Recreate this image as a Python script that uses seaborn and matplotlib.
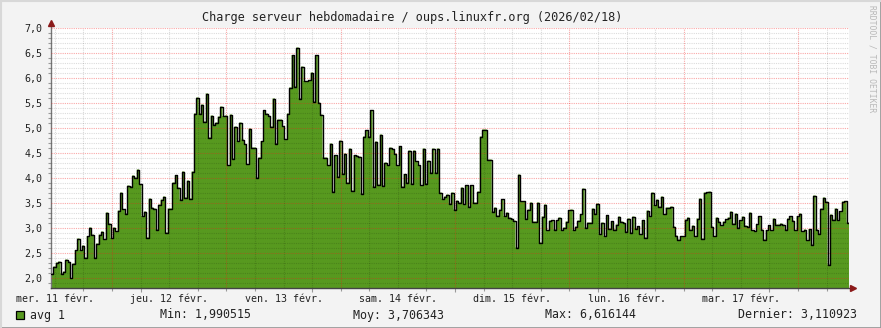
import numpy as np
import pandas as pd
import matplotlib
matplotlib.use("Agg")
import matplotlib.pyplot as plt
import seaborn as sns
from matplotlib.lines import Line2D
from matplotlib.patches import Rectangle

# ---------------- data ----------------
title = "Charge serveur hebdomadaire / oups.linuxfr.org (2026/02/18)"
day_labels = ["mer. 11 févr.", "jeu. 12 févr.", "ven. 13 févr.", "sam. 14 févr.",
              "dim. 15 févr.", "lun. 16 févr.", "mar. 17 févr."]
series_name = "avg 1"
stats_labels = ["Min: 1,990515", "Moy: 3,706343", "Max: 6,616144", "Dernier: 3,110923"]
y_ticks = [2.0, 2.5, 3.0, 3.5, 4.0, 4.5, 5.0, 5.5, 6.0, 6.5, 7.0]
watermark = "RRDTOOL / TOBI OETIKER"

start_hour = 11.19      # hours after midnight, Wed 11 Feb
step_hours = 0.5        # 30-minute consolidation

load_day1 = [2.09, 2.23, 2.31, 2.33, 2.09, 2.13, 2.37, 2.33, 2.00, 2.29,
             2.56, 2.79, 2.56, 2.65, 2.41, 2.84, 3.01, 2.87, 2.41, 2.69,
             2.87, 2.93, 2.78, 3.31, 3.09, 2.80, 3.01, 2.94, 3.35, 3.71,
             3.38, 3.29, 3.85, 3.83, 4.05, 4.01, 4.17, 3.88, 3.24, 3.33,
             2.81, 3.59, 3.41, 3.39, 2.97, 3.47, 3.57, 3.63, 2.91, 3.39,
             3.39, 3.91, 4.06, 3.81, 3.57, 4.13, 3.61, 3.95, 3.59, 4.13,
             5.29, 5.61, 5.29, 5.47, 5.13, 5.69, 4.81, 5.25, 5.07, 5.11,
             5.23, 5.43, 5.24, 5.25, 4.26, 5.27, 4.39, 5.03, 4.74, 5.11,
             4.77, 4.68, 4.28, 4.99, 4.61, 4.61, 4.01, 4.41, 4.74, 5.36,
             5.29, 5.25, 5.03, 5.59, 4.69, 5.17, 5.17, 5.04, 4.78, 5.29,
             5.81, 6.46, 5.83, 6.61]
load_mid = [5.59, 6.23, 5.94, 5.94, 5.96, 6.11, 5.53, 6.46, 5.51, 5.27,
            4.41, 4.41, 4.26, 4.69, 3.73, 4.46, 4.03, 4.75, 4.09, 4.49,
            3.91, 4.59, 3.75, 4.46, 4.45, 4.43, 3.69, 4.83, 4.96, 4.83,
            5.36, 3.83, 4.73, 3.87, 4.87, 3.85, 4.31, 4.26, 4.61, 4.58,
            4.49, 4.26, 4.64, 3.83, 4.08, 3.91, 4.55, 3.89, 4.55, 4.34,
            4.26, 3.86, 4.59, 3.89, 4.35, 4.11, 4.59, 4.11, 4.59, 3.71,
            3.58, 3.63, 3.67, 3.49, 3.71, 3.37, 3.55, 3.51, 3.81,
            3.48, 3.86, 3.43, 3.86, 3.51, 3.51, 3.73, 4.83, 4.97, 4.97,
            4.37, 4.37, 3.33, 3.41, 3.25, 3.37, 3.58, 3.24, 3.31, 3.21,
            3.19, 3.15, 2.61, 4.07, 3.54, 3.54, 3.19, 3.37, 3.51,
            3.13, 3.13, 3.51, 2.71, 3.23, 3.47, 2.96, 3.15, 3.16, 2.97,
            3.16, 3.21, 2.96, 3.01, 3.13, 3.36, 3.37, 2.96, 3.03, 3.15,
            3.28]
load_end = [3.79, 3.01, 3.11, 3.11, 3.39, 3.29, 3.49, 2.88, 3.11,
            2.84, 3.26, 2.99, 3.14, 2.97, 3.07, 3.23, 3.13, 3.11,
            2.93, 3.19, 2.91, 3.23, 2.99, 3.04, 2.88, 3.16, 2.81, 3.35,
            3.24, 3.71, 3.46, 3.57, 3.43, 3.63, 3.28, 3.41, 3.41, 3.43,
            3.03, 2.85, 2.77, 2.84, 2.84, 3.17, 3.21, 2.97, 3.05, 2.84,
            3.19, 3.59, 2.79, 3.71, 3.72, 3.73, 3.03, 2.84, 3.21, 3.13,
            3.06, 3.13, 3.18, 3.21, 3.33, 3.09, 3.29, 3.01, 3.16, 3.23,
            3.05, 3.03, 3.31, 2.96, 2.94, 3.08, 3.24, 2.97, 2.77, 2.96,
            3.06, 2.96, 3.19, 3.07, 3.07, 3.09, 3.07, 2.97, 3.19, 3.24,
            3.15, 2.96, 3.24, 3.29, 2.94, 2.97, 2.76, 2.98, 2.67,
            3.65, 2.97, 2.89, 3.39, 3.61, 3.53, 2.27, 3.27, 3.17, 3.39,
            3.16, 3.34, 3.53, 3.54, 3.11]

# ---------------- figure ----------------
W, H = 881, 328
bg = "#F3F3F3"
green = "#57991F"
mono = "DejaVu Sans Mono"

sns.set_theme(style="white")
plt.rcParams["font.family"] = [mono, "DejaVu Sans"]

fig = plt.figure(figsize=(W / 100, H / 100), dpi=100, facecolor=bg)
ax_l, ax_r, ax_t, ax_b = 51, 849, 28, 288
ax = fig.add_axes([ax_l / W, (H - ax_b) / H, (ax_r - ax_l) / W, (ax_b - ax_t) / H])
ax.set_facecolor("white")

values = load_day1 + load_mid + load_end
n = len(values)
times = start_hour + np.arange(n + 1) * step_hours
df = pd.DataFrame({"t": times, "v": values + [values[-1]]})
t_end = times[-1]

ax.fill_between(df["t"], df["v"], 0, step="post", color=green, lw=0, zorder=2)
sns.lineplot(data=df, x="t", y="v", drawstyle="steps-post", color="black",
             lw=1.0, ax=ax, zorder=4, estimator=None, sort=False)

ax.set_xlim(start_hour, t_end)
ax.set_ylim(1.8, 7.0)
ax.set_xlabel("")
ax.set_ylabel("")

# grid (rrdtool style, dotted, drawn over the area)
minor_c = (0.0, 0.0, 0.0, 0.14)
major_c = (0.95, 0.1, 0.1, 0.38)
dot = (0, (1, 1))
for k in range(19, 70):
    yv = k / 10
    if k % 5 == 0:
        continue
    ax.axhline(yv, color=minor_c, lw=0.8, ls=dot, zorder=3)
for yv in y_ticks:
    ax.axhline(yv, color=major_c, lw=0.8, ls=dot, zorder=3)
six = np.arange(np.ceil(start_hour / 6) * 6, t_end, 6)
for xv in six:
    if xv % 24 == 0:
        ax.axvline(xv, color=major_c, lw=0.8, ls=dot, zorder=3)
    else:
        ax.axvline(xv, color=minor_c, lw=0.8, ls=dot, zorder=3)

# ticks
ax.set_yticks(y_ticks)
ax.set_yticklabels([f"{v:.1f}".replace(".", ",") for v in y_ticks])
ax.set_xticks([12 + 24 * i for i in range(len(day_labels))])
ax.set_xticklabels(day_labels)
ax.tick_params(axis="both", which="major", length=0, labelsize=7.2, colors="#222222")
ax.tick_params(axis="y", pad=6)
ax.tick_params(axis="x", pad=4)
ax.set_xticks(six, minor=True)
ax.set_yticks([k / 10 for k in range(19, 70)], minor=True)
ax.tick_params(axis="both", which="minor", length=2, width=0.8, color="#999999",
               bottom=True, left=True)
for xv, tk in zip(six, ax.xaxis.get_minor_ticks()):
    if xv % 24 == 0:
        tk.tick1line.set_color("#D04040")
        tk.tick1line.set_markersize(3)
for t in ax.get_xticklabels() + ax.get_yticklabels():
    t.set_fontfamily(mono)

for s in ["top", "right"]:
    ax.spines[s].set_visible(False)
ax.spines["left"].set_color("#777777")
ax.spines["bottom"].set_color("#444444")
ax.spines["left"].set_linewidth(1)
ax.spines["bottom"].set_linewidth(1)
ax.spines["left"].set_bounds(1.8, 7.1)

# axis arrows
arrow_c = "#8B1A1A"
ax.plot([0], [1 + 5 / 260], marker="^", ms=4, color=arrow_c, transform=ax.transAxes,
        clip_on=False, zorder=6)
ax.plot([1 + 4 / 798], [0], marker=">", ms=4, color=arrow_c, transform=ax.transAxes,
        clip_on=False, zorder=6)

# title
fig.text(412.5 / W, 1 - 18 / H, title, ha="center", va="center",
         fontsize=8.6, family=mono, color="#222222")

# legend row
ly = 1 - 315 / H
fig.add_artist(Rectangle((16 / W, 1 - 319 / H), 8 / W, 8 / H, transform=fig.transFigure,
                         facecolor=green, edgecolor="black", lw=0.9))
fig.text(30 / W, ly, series_name, ha="left", va="center", fontsize=8.4, family=mono,
         color="#222222")
for xpos, lab in zip([160, 353, 545, 738], stats_labels):
    fig.text(xpos / W, ly, lab, ha="left", va="center", fontsize=8.4, family=mono,
             color="#222222")

# watermark
fig.text(872 / W, 1 - 5 / H, watermark, rotation=-90, ha="center", va="top",
         fontsize=5.8, family=mono, color="#B8B8B8")

# image border shade
fig.add_artist(Line2D([0, 1], [0.5 / H, 0.5 / H], transform=fig.transFigure,
                      color="#9A9A9A", lw=2))
fig.add_artist(Line2D([1 - 0.5 / W, 1 - 0.5 / W], [0, 1], transform=fig.transFigure,
                      color="#9A9A9A", lw=2))
fig.add_artist(Line2D([0, 1], [1 - 0.5 / H, 1 - 0.5 / H], transform=fig.transFigure,
                      color="#D8D8D8", lw=1.5))
fig.add_artist(Line2D([0.5 / W, 0.5 / W], [0, 1], transform=fig.transFigure,
                      color="#D8D8D8", lw=1.5))

fig.savefig("out.png", dpi=100, facecolor=bg)
